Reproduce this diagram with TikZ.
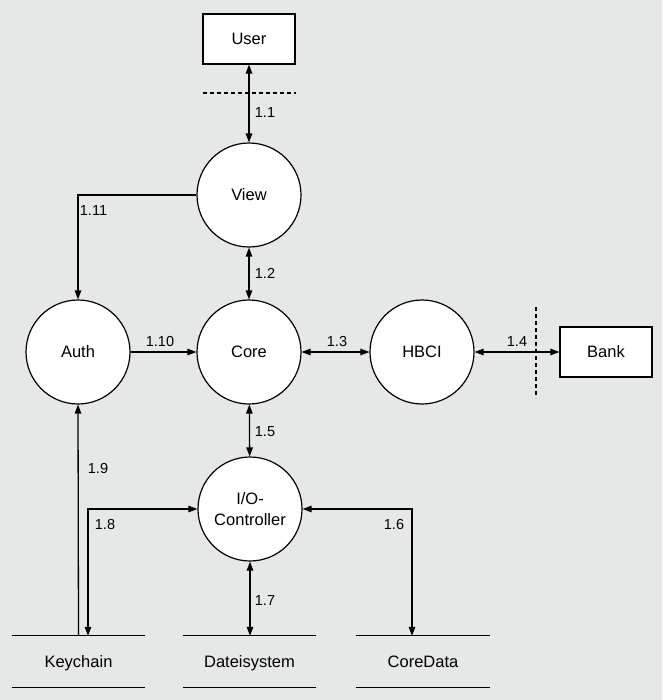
\documentclass[tikz,border=0pt]{standalone}
\usepackage{fontspec}
\setmainfont{Liberation Sans}
\usetikzlibrary{arrows.meta,calc}
\definecolor{bg}{RGB}{229,232,231}
\begin{document}
\begin{tikzpicture}[x=1pt,y=-1pt,
  namefont/.style={font=\fontsize{16.5}{21}\selectfont},
  proc/.style={circle,draw,fill=white,line width=1.2pt,minimum size=104pt,inner sep=0pt,align=center,namefont},
  ext/.style={rectangle,draw,fill=white,line width=1.2pt,minimum width=92pt,minimum height=50pt,inner sep=0pt,namefont},
  store/.style={rectangle,minimum width=133pt,minimum height=51pt,inner sep=0pt,text height=12pt,text depth=1pt,namefont},
  storeline/.style={line width=1.2pt},
  tip/.tip={Triangle[length=9pt,width=6.5pt]},
  flow/.style={line width=1.3pt},
  both/.style={flow,tip-tip},
  one/.style={flow,-tip},
  lbl/.style={font=\fontsize{14.5}{16}\selectfont,inner sep=0pt},
  boundary/.style={line width=1.2pt,dash pattern=on 4pt off 3pt}
]
\fill[bg] (0,0) rectangle (662,700);
\useasboundingbox (0,0) rectangle (662,700);

% nodes
\node[ext] (user) at (249,39) {User};
\node[ext] (bank) at (606,352) {Bank};
\node[proc] (view) at (249,195) {View};
\node[proc] (core) at (249,352) {Core};
\node[proc] (auth) at (78,352) {Auth};
\node[proc] (hbci) at (422,352) {HBCI};
\node[proc] (io) at (250,509) {I/O-\\Controller};
\node[store] (ks) at (78.5,661.5) {Keychain};
\node[store] (ds) at (249.5,661.5) {Dateisystem};
\node[store] (cd) at (423,661.5) {CoreData};

% store lines
\foreach \s in {ks,ds,cd}{
  \draw[storeline] (\s.north west) -- (\s.north east);
  \draw[storeline] (\s.south west) -- (\s.south east);
}

% boundaries
\coordinate (b1a) at (203,93);
\coordinate (b1b) at (296,93);
\draw[boundary] (b1a) -- (b1b);
\coordinate (b2a) at (536,307);
\coordinate (b2b) at (536,398);
\draw[boundary] (b2a) -- (b2b);

% flows
\draw[both] (user) -- (view);
\draw[both] (view) -- (core);
\draw[both] (core) -- (hbci);
\draw[both] (hbci) -- (bank);
\draw[both] (core) -- (io);
\draw[one] (auth) -- (core);
\draw[one] (view.west) -| (auth.north);
\draw[one] (ks.north) -- (auth.south);
\draw[both] (io.west) -| ([xshift=9.5pt]ks.north);
\draw[both] (io.east) -| ([xshift=-11pt]cd.north);
\draw[both] (io.south) -- (ds.north -| io.south);

% labels
\node[lbl] (l11) at (265,113) {1.1};
\node[lbl] (l111) at (93.5,211) {1.11};
\node[lbl] (l12) at (265,273) {1.2};
\node[lbl] (l110) at (160,342) {1.10};
\node[lbl] (l13) at (337,342) {1.3};
\node[lbl] (l14) at (517,342) {1.4};
\node[lbl] (l15) at (265,432) {1.5};
\node[lbl] (l19) at (98,469) {1.9};
\node[lbl] (l18) at (105,525) {1.8};
\node[lbl] (l16) at (394,525) {1.6};
\node[lbl] (l17) at (265,601) {1.7};
\end{tikzpicture}
\end{document}
